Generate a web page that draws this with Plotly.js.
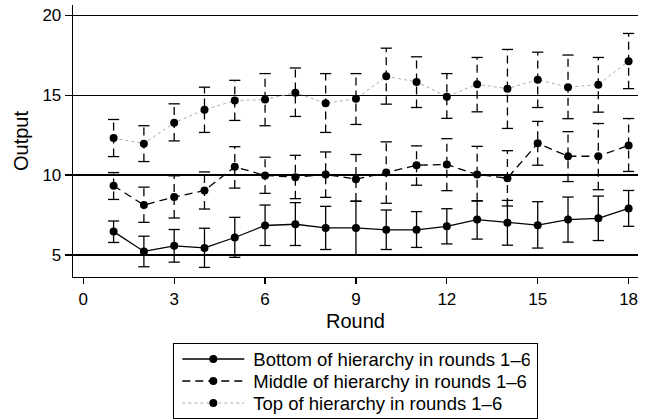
<!DOCTYPE html>
<html>
<head>
<meta charset="utf-8">
<script src="https://cdn.plot.ly/plotly-3.0.1.min.js"></script>
<style>html,body{margin:0;padding:0;background:#fff;}#chart{width:647px;height:420px;}</style>
</head>
<body>
<div id="chart"></div>
<script>
var rounds = [1,2,3,4,5,6,7,8,9,10,11,12,13,14,15,16,17,18];
var seriesNames = ["Bottom of hierarchy in rounds 1\u20136", "Middle of hierarchy in rounds 1\u20136", "Top of hierarchy in rounds 1\u20136"];

var bottom   = [6.47,5.23,5.58,5.45,6.10,6.85,6.93,6.70,6.70,6.58,6.58,6.80,7.22,7.03,6.87,7.22,7.30,7.92];
var bottomHi = [7.13,6.18,6.60,6.68,7.36,8.13,8.28,8.05,8.36,7.82,7.72,7.90,8.38,8.42,8.34,8.63,8.69,9.04];
var bottomLo = [5.79,4.27,4.56,4.23,4.86,5.60,5.60,5.35,5.02,5.35,5.48,5.70,6.00,5.62,5.44,5.81,5.91,6.80];

var middle   = [9.34,8.13,8.63,9.04,10.52,9.98,9.87,10.04,9.75,10.16,10.62,10.66,10.04,9.81,11.99,11.18,11.18,11.86];
var middleHi = [10.16,9.25,9.96,10.20,11.78,11.12,11.24,11.45,11.29,12.08,11.83,12.28,11.80,11.53,13.36,12.72,13.23,13.54];
var middleLo = [8.48,7.05,7.32,7.88,9.19,8.86,8.53,8.61,8.38,8.24,9.37,9.03,8.40,8.07,10.62,9.60,9.09,10.23];

var top_     = [12.32,11.97,13.28,14.09,14.66,14.73,15.16,14.50,14.77,16.18,15.83,14.91,15.68,15.41,15.97,15.50,15.66,17.13];
var topHi    = [13.48,13.09,14.46,15.50,15.93,16.35,16.70,16.35,16.35,17.94,17.40,16.35,17.36,17.86,17.69,17.51,17.36,18.86];
var topLo    = [11.16,10.85,12.14,12.67,13.42,13.09,13.67,12.67,13.17,14.44,14.23,13.55,13.96,12.92,14.23,13.53,13.94,15.41];

var xTicks = [0,3,6,9,12,15,18];
var yTicks = [5,10,15,20];

var FONT = "Liberation Sans, Arial, Helvetica, sans-serif";

function errTraces(lo, hi, dash) {
  var xs = [], ys = [], cx = [], cy = [];
  for (var i = 0; i < rounds.length; i++) {
    xs.push(rounds[i], rounds[i], null);
    ys.push(lo[i], hi[i], null);
    cx.push(rounds[i], rounds[i]);
    cy.push(lo[i], hi[i]);
  }
  return [
    {x: xs, y: ys, type: "scatter", mode: "lines", showlegend: false, hoverinfo: "skip",
     line: {color: "#000", width: 1.3, dash: dash}},
    {x: cx, y: cy, type: "scatter", mode: "markers", showlegend: false, hoverinfo: "skip",
     marker: {symbol: "line-ew", size: 8, color: "#000", line: {color: "#000", width: 1.3}}}
  ];
}

var traces = [];
traces = traces.concat(errTraces(bottomLo, bottomHi, "solid"));
traces = traces.concat(errTraces(middleLo, middleHi, "8px,5px"));
traces = traces.concat(errTraces(topLo, topHi, "8px,5px"));

traces.push({x: rounds, y: bottom, name: seriesNames[0], type: "scatter", mode: "lines+markers",
  line: {color: "#000", width: 1.3}, marker: {color: "#000", size: 8}});
traces.push({x: rounds, y: middle, name: seriesNames[1], type: "scatter", mode: "lines+markers",
  line: {color: "#000", width: 1.3, dash: "8px,5px"}, marker: {color: "#000", size: 8}});
traces.push({x: rounds, y: top_, name: seriesNames[2], type: "scatter", mode: "lines+markers",
  line: {color: "#aaa", width: 1, dash: "dot"}, marker: {color: "#000", size: 8}});

var layout = {
  width: 647, height: 420,
  margin: {l: 73, r: 9, t: 5, b: 142},
  paper_bgcolor: "#fff", plot_bgcolor: "#fff",
  font: {family: FONT, color: "#000", size: 17},
  showlegend: true,
  xaxis: {
    range: [-0.34, 18.31], tickvals: xTicks, ticktext: xTicks.map(String),
    showgrid: false, zeroline: false, showline: true, linecolor: "#000", linewidth: 1.3,
    ticks: "outside", ticklen: 6, tickwidth: 1.3, tickcolor: "#000",
    tickfont: {size: 17, family: FONT},
    title: {text: "Round", font: {size: 20, family: FONT}, standoff: 6}
  },
  yaxis: {
    range: [3.63, 20.64], tickvals: yTicks, ticktext: yTicks.map(String),
    showgrid: true, gridcolor: "#000", gridwidth: 1.3, zeroline: false,
    showline: true, linecolor: "#000", linewidth: 1.3,
    ticks: "outside", ticklen: 7, tickwidth: 1.3, tickcolor: "#000",
    tickfont: {size: 17, family: FONT},
    title: {text: "Output", font: {size: 20, family: FONT}, standoff: 8}
  },
  legend: {
    x: 0.177, xanchor: "left", y: -0.505, yanchor: "bottom",
    bordercolor: "#000", borderwidth: 1.3, bgcolor: "#fff",
    font: {size: 18.5, family: FONT}, itemwidth: 62, tracegroupgap: 0,
    traceorder: "normal"
  }
};

var ROW = 22, FIRST_ROW = 16, BOX_H = 75;
var LEG_X = 173, LEG_Y = 343, TEXT_SHIFT = 7, SYMBOL_SHIFT = 3;
Plotly.newPlot("chart", traces, layout, {displayModeBar: false, staticPlot: true}).then(function (gd) {
  try {
    var lg = gd.querySelector("g.legend");
    var items = lg.querySelectorAll("g.traces");
    items.forEach(function (g, i) {
      var m = /translate\(\s*([-\d.e]+)[ ,]+([-\d.e]+)\s*\)/.exec(g.getAttribute("transform") || "");
      var x = m ? +m[1] : 1;
      g.setAttribute("transform", "translate(" + x + "," + (FIRST_ROW + i * ROW) + ")");
      var t = g.querySelector("text.legendtext");
      if (t) t.setAttribute("x", (+t.getAttribute("x")) + TEXT_SHIFT);
      ["g.legendlines", "g.legendpoints"].forEach(function (sel) {
        var s = g.querySelector(sel);
        if (s) s.setAttribute("transform", "translate(" + SYMBOL_SHIFT + ",0)");
      });
    });
    var bg = lg.querySelector("rect.bg");
    if (bg) {
      bg.setAttribute("height", BOX_H);
      bg.setAttribute("width", (+bg.getAttribute("width")) + TEXT_SHIFT);
    }
    lg.setAttribute("transform", "translate(" + LEG_X + "," + LEG_Y + ")");
  } catch (e) {}
});
</script>
</body>
</html>
